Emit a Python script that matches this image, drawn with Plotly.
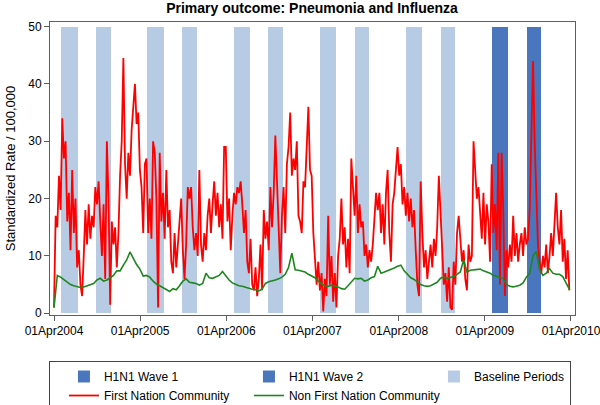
import pandas as pd
import plotly.graph_objects as go

# ---------------- data ----------------
chart_title = "Primary outcome: Pneumonia and Influenza"
y_title = "Standardized Rate / 100,000"
tick_dates = ["2004-04-01", "2005-04-01", "2006-04-01", "2007-04-01",
              "2008-04-01", "2009-04-01", "2010-04-01"]
y_ticks = [0, 10, 20, 30, 40, 50]

baseline_start = ["2004-05-02", "2004-09-27", "2005-05-02", "2005-09-27",
                  "2006-05-02", "2006-09-27", "2007-05-02", "2007-09-27",
                  "2008-05-02", "2008-09-27"]
baseline_end = ["2004-07-10", "2004-11-27", "2005-07-10", "2005-11-27",
                "2006-07-10", "2006-11-27", "2007-07-10", "2007-11-27",
                "2008-07-10", "2008-11-27"]
wave1_start = ["2009-05-02"]
wave1_end = ["2009-07-10"]
wave2_start = ["2009-09-27"]
wave2_end = ["2009-11-27"]
period_top = 50

# First Nation community, weekly rates (Apr of each year to Mar of next)
fn_2004 = [1, 17, 15, 24, 18, 34, 27, 30, 16, 21, 11, 25, 14, 20, 8, 11, 5, 3, 10, 18,
           12, 19, 13, 17, 15, 22, 19, 23, 16, 10, 19, 6, 30, 20, 1.5, 16, 12, 15, 8, 14,
           24, 30, 44.5, 26, 20, 28, 24, 32, 36, 40, 33, 35]
fn_2005 = [25, 22, 14, 26, 27, 14, 20, 13, 30, 28, 20, 1, 28, 16, 21, 13, 25, 15, 18, 9,
           7, 14, 8, 12, 17, 20, 11, 6, 12, 22, 20, 22, 15, 11, 14, 10, 25, 12, 9, 14,
           11, 17, 20, 14, 19, 23, 17, 21, 15, 19, 13, 29]
fn_2006 = [29, 16, 20, 11, 17, 21, 19, 22, 21, 23, 19, 14, 18, 9, 7, 13, 5, 4, 8, 3,
           6, 12, 4, 18, 13, 16, 11, 22, 15, 21, 31, 22, 16, 7, 17, 22, 14, 26, 29, 35,
           24, 27, 25, 30, 17, 16, 14, 23, 22, 30, 36, 25]
fn_2007 = [24, 14, 9, 5, 9, 4, 7, 0.3, 6, 3, 17, 5, 10, 2, 7, 1, 10, 13, 20, 12,
           15, 8, 13, 7, 27, 22, 17, 24, 14, 19, 15, 16, 10, 12, 8, 11, 9, 12, 17, 21,
           18, 21, 14, 19, 12, 21, 25, 14, 9, 19, 21, 26]
fn_2008 = [29, 24, 26, 19, 22, 17, 21, 16, 20, 15, 18, 11, 5, 3, 23, 14, 8, 11, 6, 9,
           12, 8, 13, 10, 15, 24, 18, 13, 5, 7, 2, 8, 1, 0.6, 9, 5, 14, 17, 12, 9,
           11, 6, 4, 12, 9, 10, 30, 24, 20, 22, 18, 13]
fn_2009 = [21, 12, 19, 16, 9, 26, 14, 19, 11, 28, 5, 28, 18, 3, 11, 8, 12, 9, 17, 10,
           14, 9, 12, 14, 10, 15, 12, 13, 18, 32, 44, 30, 20, 12, 9, 7, 10, 8, 12, 7,
           10, 14, 10, 17, 21, 15, 12, 18, 9, 13, 6, 11, 4]

# Non First Nation community, fortnightly rates
nfn_rates = [1, 6.6, 6.3, 5.9, 5.4, 5.0, 4.8, 4.6, 4.5, 4.6,
             4.8, 4.9, 5.2, 5.8, 6.1, 5.6, 5.8, 6.2, 6.6, 7.4,
             7.4, 8.4, 9.3, 10.7, 9.6, 8.5, 7.7, 6.5, 6.6, 6.3,
             5.6, 5.1, 4.8, 4.5, 4.2, 3.8, 4.3, 4.1, 4.8, 5.6,
             6.0, 5.4, 5.3, 5.2, 4.9, 5.2, 7.0, 6.2, 6.1, 6.4,
             6.6, 7.3, 6.5, 5.8, 5.3, 5.0, 4.8, 4.7, 4.5, 4.3,
             4.2, 4.1, 3.9, 4.2, 5.2, 5.5, 5.6, 5.8, 6.0, 6.3,
             6.8, 8.0, 10.5, 7.6, 7.5, 7.4, 7.2, 6.8, 6.5, 6.2,
             5.6, 5.1, 4.8, 4.7, 4.9, 4.8, 4.6, 4.3, 4.2, 4.8,
             5.5, 6.1, 6.0, 6.1, 5.6, 5.8, 6.2, 6.4, 8.2, 7.0,
             7.2, 7.4, 7.6, 7.9, 8.2, 8.4, 7.4, 6.8, 6.2, 5.9,
             5.4, 5.0, 4.8, 4.7, 4.8, 5.1, 5.4, 6.1, 6.3, 6.1,
             6.2, 6.4, 6.8, 7.2, 9.3, 7.2, 7.5, 7.6, 7.6, 7.7,
             7.4, 7.2, 7.0, 6.6, 6.4, 6.3, 6.1, 5.0, 4.7, 4.6,
             4.7, 4.9, 5.3, 6.3, 7.0, 10.0, 10.8, 7.6, 6.6, 7.0,
             7.8, 7.0, 6.8, 6.8, 6.4, 5.3, 4.2]

fn_rates = fn_2004 + fn_2005 + fn_2006 + fn_2007 + fn_2008 + fn_2009
fn_dates = pd.date_range("2004-04-01", periods=len(fn_rates), freq="7D")
nfn_dates = pd.date_range("2004-04-01", periods=len(nfn_rates), freq="14D")

# ---------------- styles ----------------
LIGHT = "#b8cbe5"
DARK = "#4a76be"
RED = "#ff0000"
GREEN = "#1e861e"
AXIS = "#5f5f5f"
FONT = "Arial, Liberation Sans, sans-serif"


def spans(starts, ends):
    s = pd.to_datetime(starts)
    e = pd.to_datetime(ends)
    mids = s + (e - s) / 2
    widths = [(b - a).total_seconds() * 1000 for a, b in zip(s, e)]
    return mids, widths


fig = go.Figure()
for name, st, en, col, lw in [("H1N1 Wave 1", wave1_start, wave1_end, DARK, 126),
                               ("H1N1 Wave 2", wave2_start, wave2_end, DARK, 126),
                               ("Baseline Periods", baseline_start, baseline_end, LIGHT, 91)]:
    mids, widths = spans(st, en)
    fig.add_trace(go.Bar(x=mids, y=[period_top] * len(mids), width=widths, name=name,
                         marker=dict(color=col, line=dict(width=0)),
                         legendwidth=lw, hoverinfo="skip"))

fig.add_trace(go.Scatter(x=fn_dates, y=fn_rates, mode="lines", name="First Nation Community",
                         line=dict(color=RED, width=1.8), legendwidth=126))
fig.add_trace(go.Scatter(x=nfn_dates, y=nfn_rates, mode="lines", name="Non First Nation Community",
                         line=dict(color=GREEN, width=1.6), legendwidth=126))

fig.update_layout(
    width=600, height=405,
    margin=dict(l=50, r=25, t=22, b=90, autoexpand=False),
    plot_bgcolor="white", paper_bgcolor="white",
    barmode="overlay", bargap=0,
    font=dict(family=FONT, size=12, color="black"),
    title=dict(text="<b>" + chart_title + "</b>", x=0.52, xanchor="center",
               y=0.979, yanchor="middle", yref="container",
               font=dict(size=14, family=FONT, color="black")),
    showlegend=True,
    legend=dict(orientation="h", x=-0.002, xanchor="left",
                y=(315 - 361) / 293, yanchor="top",
                bordercolor="#444444", borderwidth=1, bgcolor="white",
                indentation=14,
                font=dict(size=12, family=FONT), tracegroupgap=0, traceorder="normal"),
    xaxis=dict(type="date", range=["2004-03-15", "2010-04-18"],
               tickvals=tick_dates, tickformat="%d%b%Y", ticklabeloverflow="allow",
               ticks="outside", ticklen=5, tickcolor=AXIS, automargin=False,
               showline=True, linecolor=AXIS, linewidth=1, mirror=True,
               showgrid=False, zeroline=False, tickfont=dict(size=12)),
    yaxis=dict(range=[-0.3, 50.8], tickvals=y_ticks, automargin=False,
               ticks="outside", ticklen=5, tickcolor=AXIS,
               showline=True, linecolor=AXIS, linewidth=1, mirror=True,
               showgrid=False, zeroline=False, tickfont=dict(size=12),
               title=dict(text=y_title, font=dict(size=13), standoff=9)),
)

fig.write_html("out.html", config={"displayModeBar": False},
               post_script="document.body.style.margin='0';document.body.style.overflow='hidden';")
